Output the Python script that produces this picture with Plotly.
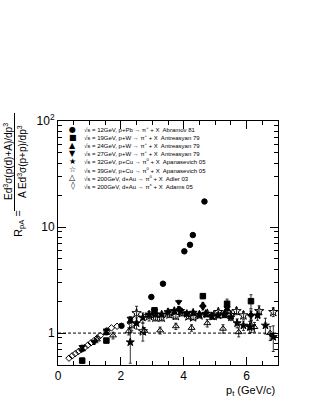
import plotly.graph_objects as go

# ---------------- data ----------------
pt_12 = [2.02, 2.97, 3.34, 4.02, 4.20, 4.29, 4.66]
r_12 = [1.17, 2.19, 2.92, 5.9, 6.8, 8.4, 17.4]

pt_19 = [0.77, 1.54, 3.07, 4.61, 5.38, 6.14]
r_19 = [0.55, 0.85, 1.64, 2.23, 1.89, 2.0]
e_19 = [0.03, 0.04, 0.08, 0.1, 0.2, 0.3]

pt_24 = [0.77, 1.54, 2.30, 3.07, 3.84, 4.61, 5.38, 6.14]
r_24 = [0.70, 1.00, 1.30, 1.55, 1.70, 1.85, 1.68, 1.50]
e_24 = [0.03, 0.04, 0.06, 0.08, 0.08, 0.1, 0.12, 0.15]

pt_27 = [0.77, 1.15, 1.54, 2.30, 3.07, 3.84, 4.61, 5.38, 6.14]
r_27 = [0.74, 0.82, 1.06, 1.37, 1.62, 1.96, 1.75, 1.72, 1.45]
e_27 = [0.03, 0.04, 0.05, 0.06, 0.08, 0.08, 0.1, 0.12, 0.15]

pt_32 = [2.30, 2.50, 2.70, 2.90, 3.10, 3.30, 3.50, 3.70, 3.90, 4.10, 4.30, 4.50,
         4.70, 4.90, 5.10, 5.30, 5.50, 5.70, 5.90, 6.10, 6.35, 6.60, 6.85]
r_32 = [0.82, 1.24, 1.40, 1.50, 1.50, 1.50, 1.58, 1.62, 1.62, 1.52, 1.56, 1.50,
        1.52, 1.44, 1.47, 1.50, 1.41, 1.24, 1.18, 1.14, 1.47, 1.18, 0.92]
e_32 = [0.3, 0.15, 0.15, 0.1, 0.08, 0.08, 0.1, 0.1, 0.1, 0.08, 0.08, 0.08,
        0.08, 0.08, 0.08, 0.1, 0.1, 0.12, 0.12, 0.15, 0.15, 0.2, 0.25]

pt_39 = [2.35, 2.50, 2.70, 2.90, 3.10, 3.30, 3.55, 3.75, 3.95, 4.15, 4.30, 4.50,
         4.75, 4.95, 5.10, 5.30, 5.50, 5.68, 5.90, 6.15, 6.40, 6.85]
r_39 = [1.20, 1.54, 1.04, 1.45, 1.40, 1.40, 1.50, 1.45, 1.55, 1.44, 1.41, 1.47,
        1.52, 1.45, 1.58, 1.50, 1.48, 1.61, 1.47, 1.16, 1.61, 1.58]
e_39 = [0.15, 0.25, 0.2, 0.15, 0.1, 0.1, 0.1, 0.1, 0.1, 0.08, 0.08, 0.08,
        0.1, 0.1, 0.1, 0.1, 0.1, 0.12, 0.12, 0.15, 0.2, 0.15]

pt_200a = [1.24, 1.75, 2.25, 2.75, 3.25, 3.75, 4.25, 4.75, 5.25, 5.75, 6.25, 6.75]
r_200a = [0.87, 0.95, 1.04, 1.05, 1.06, 1.16, 1.12, 1.24, 1.10, 1.02, 1.14, 1.00]
e_200a = [0.06, 0.07, 0.08, 0.08, 0.08, 0.08, 0.08, 0.1, 0.1, 0.1, 0.12, 0.15]

pt_200b = [0.35, 0.45, 0.55, 0.65, 0.75, 0.85, 0.95, 1.05, 1.15, 1.25, 1.35, 1.55, 1.70, 1.88]
r_200b = [0.58, 0.61, 0.64, 0.67, 0.70, 0.73, 0.77, 0.81, 0.85, 0.90, 0.95, 1.05, 1.12, 1.16]

legend_labels = [
    "√s = 12GeV, p+Pb → π<sup>+</sup> + X  Abramov 81",
    "√s = 19GeV, p+W → π<sup>+</sup> + X  Antreasyan 79",
    "√s = 24GeV, p+W → π<sup>+</sup> + X  Antreasyan 79",
    "√s = 27GeV, p+W → π<sup>+</sup> + X  Antreasyan 79",
    "√s = 32GeV, p+Cu → π<sup>0</sup> + X  Apanasevich 05",
    "√s = 39GeV, p+Cu → π<sup>0</sup> + X  Apanasevich 05",
    "√s = 200GeV, d+Au → π<sup>0</sup> + X  Adler 03",
    "√s = 200GeV, d+Au → π<sup>±</sup> + X  Adams 05",
]
legend_glyphs = ["●", "■", "▲", "▼", "★", "☆", "△", "◊"]

x_ticks = [0, 2, 4, 6]
y_ticks = [1, 10, 100]
y_ticktext = ["1", "10", "10<sup>2</sup>"]

# ---------------- figure ----------------
W, H = 316, 409
L, R, T, B = 58, 38, 121, 44
pw, ph = W - L - R, H - T - B

def px2paper(x, y):
    return (x - L) / pw, (H - B - y) / ph

fig = go.Figure()

def add(pt, r, sym, size, err=None):
    kw = {}
    if err is not None:
        kw["error_y"] = dict(type="data", array=err, visible=True, color="black",
                             thickness=0.8, width=1.5)
    fig.add_trace(go.Scatter(x=pt, y=r, mode="markers",
                             marker=dict(symbol=sym, size=size, color="black",
                                         line=dict(color="black", width=1)),
                             showlegend=False, **kw))

add(pt_200b, r_200b, "diamond-open", 5)
add(pt_200a, r_200a, "triangle-up-open", 6, e_200a)
add(pt_39, r_39, "star-open", 7, e_39)
add(pt_32, r_32, "star", 6, e_32)
add(pt_24, r_24, "triangle-up", 5.5, e_24)
add(pt_27, r_27, "triangle-down", 5.5, e_27)
add(pt_19, r_19, "square", 5.5, e_19)
add(pt_12, r_12, "circle", 5.5)

# dashed reference line at 1
fig.add_shape(type="line", xref="paper", yref="y", x0=0, x1=1, y0=1, y1=1,
              line=dict(color="black", width=1, dash="3px,2px"))

font = "Liberation Sans, Arial, sans-serif"

# legend (as text)
for i, (g, lab) in enumerate(zip(legend_glyphs, legend_labels)):
    yp = 129 + i * 8.1
    gx, gy = px2paper(72.5, yp)
    tx, _ = px2paper(82, yp)
    fig.add_annotation(x=gx, y=gy, xref="paper", yref="paper", text=g, showarrow=False,
                       xanchor="center", yanchor="middle",
                       font=dict(family="DejaVu Sans", size=8, color="black"))
    fig.add_annotation(x=tx, y=gy, xref="paper", yref="paper", text=lab, showarrow=False,
                       xanchor="left", yanchor="middle",
                       font=dict(family=font, size=6, color="black"))

# y title (fraction)
ax_, ay_ = px2paper(19, 224)
fig.add_annotation(x=ax_, y=ay_, xref="paper", yref="paper", textangle=-90,
                   text="R<sub>pA</sub> =", showarrow=False, xanchor="center", yanchor="middle",
                   font=dict(family=font, size=11, color="black"))
nx, ny = px2paper(8, 162)
fig.add_annotation(x=nx, y=ny, xref="paper", yref="paper", textangle=-90,
                   text="Ed<sup>3</sup>σ(p(d)+A)/dp<sup>3</sup>", showarrow=False,
                   xanchor="center", yanchor="middle",
                   font=dict(family=font, size=10, color="black"))
dx, dy = px2paper(22, 162)
fig.add_annotation(x=dx, y=dy, xref="paper", yref="paper", textangle=-90,
                   text="A Ed<sup>3</sup>σ(p+p)/dp<sup>3</sup>", showarrow=False,
                   xanchor="center", yanchor="middle",
                   font=dict(family=font, size=10, color="black"))
bx0, by0 = px2paper(14.5, 113)
bx1, by1 = px2paper(14.5, 211)
fig.add_shape(type="line", xref="paper", yref="paper", x0=bx0, x1=bx1, y0=by0, y1=by1,
              line=dict(color="black", width=1))

# x title
xtx, xty = px2paper(277, 391)
fig.add_annotation(x=xtx, y=xty, xref="paper", yref="paper", text="p<sub>t</sub> (GeV/c)",
                   showarrow=False, xanchor="right", yanchor="middle",
                   font=dict(family=font, size=11, color="black"))

y_minor = [0.6, 0.7, 0.8, 0.9] + [k for k in range(2, 10)] + [10 * k for k in range(2, 10)]

fig.update_layout(
    width=W, height=H,
    margin=dict(l=L, r=R, t=T, b=B),
    paper_bgcolor="white", plot_bgcolor="white",
    font=dict(family=font, size=11, color="black"),
    hovermode=False,
    xaxis=dict(range=[0, 7], tickvals=x_ticks, ticks="inside", ticklen=8,
               tickcolor="black", showline=True, linecolor="black", linewidth=1,
               mirror="allticks", showgrid=False, zeroline=False,
               tickfont=dict(size=12),
               minor=dict(dtick=0.5, tick0=0, ticks="inside", ticklen=4,
                          tickcolor="black", showgrid=False)),
    yaxis=dict(type="log", range=[-0.30103, 2], tickvals=y_ticks, ticktext=y_ticktext,
               ticks="inside", ticklen=8, tickcolor="black", showline=True,
               linecolor="black", linewidth=1, mirror="allticks", showgrid=False,
               zeroline=False, tickfont=dict(size=12),
               minor=dict(tickvals=y_minor, ticks="inside", ticklen=4,
                          tickcolor="black", showgrid=False)),
)

fig.write_html("out.html", config={"displayModeBar": False},
               post_script="document.body.style.margin='0';document.body.style.padding='0';")
